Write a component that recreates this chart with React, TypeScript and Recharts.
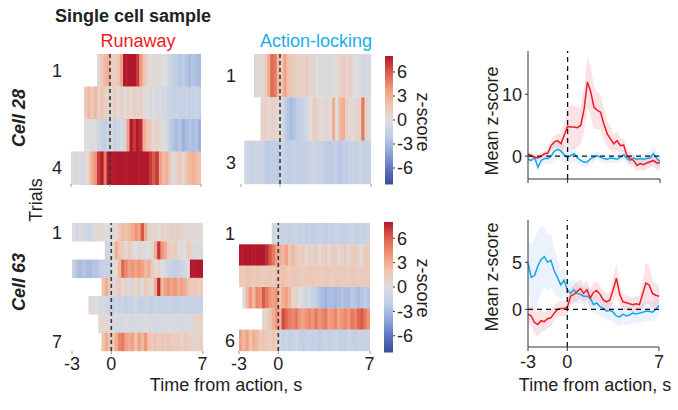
import React from 'react';
import {
  BarChart,
  Bar,
  ComposedChart,
  Line,
  Area,
  XAxis,
  YAxis,
  ReferenceLine,
} from 'recharts';

// heatmap bins are 0.25 s wide, rows end at +7 s
const BIN = 0.25;
const TIME_TICKS = [-3, 0, 7];
const CBAR_TICKS = [-6, -3, 0, 3, 6];

// ---- Cell 28 ----
const RUN28_STARTS = [-1, -2, -2, -3];
const RUN28_ROWS = [
  [0.5, 1.5, 2.5, 3.0, 1.5, 1.0, 1.5, 3.5, 8, 8, 8, 8, 7, 4, 2, 0.8, 0.3, 0.2, 0.5, 0.3, 0, -0.3, -1.2, -1.5, -2.0, -2.5, -2.0, -2.5, -3.0, -2.5, -2.8, -3.0],
  [1.5, 2.5, 1.5, 2.5, 1.0, 2.0, 1.0, 0.8, 0.5, 1.2, 0.3, 1.0, 0.2, 1.0, 0.5, 1.2, 0.8, 1.0, 0.3, 0.0, -0.5, 0.2, -0.5, -0.3, -0.8, -1.0, -1.3, -1.5, -1.4, -1.6, -1.5, -1.3, -1.6, -1.5, -1.4, -1.6],
  [0, 0, -0.2, 0, -1.0, -1.5, -1.8, -1.2, -0.8, -1.5, -1.0, -0.5, -0.8, 3.5, 8, 7, 8, 7.5, 3, 2, 1.5, 0.5, 1.0, 0.3, 0, -0.5, -2.0, -2.5, -3.0, -2.5, -3.5, -3.0, -2.5, -3.0, -2.5, -3.5],
  [0.3, -0.5, 0, -0.8, 0.5, 1.0, 3.0, 4.0, 7.0, 8, 5, 8, 8, 8, 8, 8, 8, 8, 8, 8, 8, 8, 8, 8, 7, 6, 7, 3.5, 2.5, 3, 1.5, -0.5, 1.0, 1.5, 0.5, 2.0, 2.5, 3.0, 2.5, 2.0],
];
const LOCK28_STARTS = [-2, -1.5, -2.75];
const LOCK28_ROWS = [
  [-0.5, 0.5, 0.3, 1.0, 3.0, 5.5, 5.0, 2.5, 1.5, 3.5, 2.0, 1.5, 1.2, 1.0, 1.0, 0.8, 1.5, 0.5, 0.8, 0, -0.5, 0.3, -0.3, -0.5, 0, 0.3, 1.0, 1.3, 0.8, 1.2, 0.2, 0, -0.5, -0.8, -0.5, -0.5],
  [0.8, 1.0, 0.5, 1.0, 0.8, 0.3, -0.3, -1.5, -2.5, -3.0, -2.5, -2.0, -1.5, -1.2, -0.5, 0.0, 1.5, 0.8, 0.3, 0.5, 0.8, 0.3, 3.0, 0.0, 2.5, 3.0, 1.0, 0.5, 0.3, 0.8, 1.0, 5.0, 1.0, 0.0],
  [-1.0, -1.2, -1.5, -1.0, -1.3, -1.0, -2.0, -2.2, -2.0, -1.8, -2.0, -1.3, -1.5, -2.0, -1.8, -1.5, -2.0, -1.6, -1.8, -1.5, -1.3, -1.0, -1.5, -1.2, -1.8, -2.0, -2.2, -1.8, -2.0, -2.3, -1.8, -2.0, -1.5, -1.3, -1.6, -1.2, -1.5, -1.8, -1.5],
];

// ---- Cell 63 ----
const RUN63_STARTS = [-3, -0.5, -3, -0.75, -1.75, -1, -0.75];
const RUN63_ROWS = [
  [-0.3, -0.8, -0.3, -0.5, -0.8, -1.2, -0.5, 0.3, 0.5, 0.3, 0.0, -0.3, 0.3, 0.5, 1.5, 2.5, 2.0, 2.5, 3.0, 4.0, 3.5, 6.0, 3.0, 1.0, 0.5, 0.8, 0.3, 1.0, 0.5, 0.8, 1.2, 1.0, 1.2, 0.8, 0.5, 0.3, 0.2, 0.3, 0.5, 0.3],
  [-1.0, -0.8, 0.0, 3.0, 2.0, 1.5, 0.5, 1.5, 0.5, 0.0, -0.5, 0.3, -0.3, 0.0, 0.5, 3.0, 7.0, 4.0, 3.0, 1.5, 1.0, 1.5, 0.5, 0.3, 0.0, 1.5, 0.8, -0.5, -0.3, -0.5],
  [-1.5, -2.5, -3.0, -2.5, -2.8, -3.0, -2.5, -2.5, -2.0, -1.5, -1.5, -1.5, 0.0, 0.5, 2.5, 5.5, 4.5, 3.5, 4.0, 3.5, 4.0, 3.5, 2.5, 3.0, 1.5, 0.5, 1.0, 0.0, -0.5, -1.2, -1.5, -1.8, -1.5, -1.2, -0.8, 0.0, 8, 8, 8, 8],
  [2.0, 3.0, 1.5, 0.0, 0.8, 1.5, 0.5, 1.0, -0.5, 1.0, 0.5, 1.2, 0.3, 1.5, 1.0, 0.5, 3.0, 7.5, 2.5, 3.5, 4.0, 3.5, 4.0, 3.0, 3.5, 3.0, 2.0, 1.5, 1.8, 1.2, 1.5],
  [0.3, 0.5, 0.0, -0.8, -0.5, -1.0, -1.3, -1.5, -1.0, -1.5, -1.2, -1.8, -1.3, -1.5, -1.0, -1.5, -1.6, -1.4, -1.5, -1.7, -1.3, -1.5, -1.5, -1.6, -1.4, -1.5, -1.6, -1.5, -1.3, -1.5, -1.6, -1.5, -1.4, -1.5, -1.5],
  [0.5, 0.6, 0.5, 0.3, -0.3, -0.4, -0.6, -0.5, -0.3, -0.5, -0.6, -0.4, -0.5, -0.5, -0.3, -0.5, -0.4, -0.6, -0.5, -0.4, -0.5, -0.3, -0.5, -0.4, -0.5, -0.6, -0.5, -0.4, -0.5, 0.8, 0.8, 0.8],
  [2.0, 3.0, 2.0, 1.5, 3.0, 4.5, 5.0, 3.5, 3.0, 3.5, 2.0, 3.5, 2.5, 4.0, 2.0, 1.5, 2.0, 1.5, 1.8, 1.5, 2.0, 1.5, 1.2, 1.5, 1.0, 1.5, 1.2, 0.8, 1.0, 0.8, 1.2],
];
const LOCK63_STARTS = [-0.5, -3, -3, -2.75, -1.25, -3];
const LOCK63_ROWS = [
  [-0.8, -0.5, -1.2, -1.5, -1.3, -1.8, -1.5, -1.2, -1.6, -1.4, -1.8, -1.5, -2.0, -1.6, -1.3, -1.8, -2.0, -1.5, -1.7, -1.3, -1.5, -1.8, -1.6, -1.4, -1.2, -1.5, -1.6, -1.3, -1.5, -1.2],
  [8, 8, 8, 8, 8, 8, 8, 8, 7.5, 6.0, 5.0, 3.5, 3.0, 2.5, 3.5, 2.0, 2.5, 1.5, 1.0, 1.5, 0.5, 1.2, 0.8, 1.5, 0.5, 1.0, 1.5, 0.3, 1.2, 1.5, 0.5, 1.0, 1.5, 0.5, 1.2, 1.5, 1.0, 0.3, 1.5, 1.5],
  [1.8, 1.5, 2.0, 1.6, 1.5, 1.8, 1.5, 1.3, 1.6, 1.8, 1.5, 2.0, 1.7, 2.2, 1.8, 1.5, 1.8, 1.6, 1.5, 1.2, 1.5, 1.8, 1.6, 1.3, 1.5, 1.4, 1.8, 1.5, 1.2, 1.5, 1.6, 1.3, 1.5, 1.2, 1.8, 1.5, 1.4, 1.5, 1.3, 1.5],
  [0.0, 2.5, 4.0, 2.5, 4.5, 4.0, 6.0, 5.0, 4.0, 3.5, 4.0, 2.0, 3.0, 3.5, 2.5, 0.5, 1.0, 0.0, -0.5, -1.0, -0.5, -1.5, -2.0, -2.5, -3.0, -3.5, -3.0, -2.8, -3.2, -3.0, -2.5, -2.8, -3.0, -2.2, -2.5, -3.0, -2.5, -2.0, -2.5],
  [0.5, 1.0, 2.0, 3.0, 4.0, 3.0, 6.5, 5.5, 5.0, 4.5, 5.0, 4.0, 3.5, 4.0, 4.5, 4.0, 5.0, 4.0, 4.5, 5.0, 3.5, 4.0, 4.5, 3.5, 4.0, 4.5, 4.0, 5.0, 4.5, 5.5, 6.0, 5.0, 4.0],
  [3.5, 2.5, 3.5, 2.0, 3.0, 2.5, 1.5, 2.0, 1.5, 1.0, 1.8, 1.2, -0.8, -1.5, -1.2, -1.8, -1.5, -1.0, -1.6, -2.0, -1.5, -1.3, -1.8, -1.5, -2.0, -1.6, -1.3, -1.8, -1.5, -1.2, -1.6, -1.5, -1.8, -1.3, -1.5, -1.7, -1.4, -1.5, -1.3, -1.5],
];

// ---- mean traces, sampled every 0.25 s from -3 to 7 ----
const TIME = [
  -3, -2.75, -2.5, -2.25, -2, -1.75, -1.5, -1.25, -1, -0.75,
  -0.5, -0.25, 0, 0.25, 0.5, 0.75, 1, 1.25, 1.5, 1.75,
  2, 2.25, 2.5, 2.75, 3, 3.25, 3.5, 3.75, 4, 4.25,
  4.5, 4.75, 5, 5.25, 5.5, 5.75, 6, 6.25, 6.5, 6.75, 7,
];
const RUN28_MEAN = [
  0.3, 0.1, -0.2, -0.3, 0, 0.4, 0.5, 1.7, 2.3, 2.5,
  2.0, 3.4, 4.8, 4.7, 4.7, 4.6, 5.0, 7.6, 12.0, 10.4,
  7.9, 7.4, 7.1, 5.2, 3.6, 2.8, 2.0, 2.5, 1.7, 1.8,
  0, -0.4, -0.7, -1.5, -1.2, -1.4, -1.1, -0.9, -0.7, -1.1, -1.1,
];
const RUN28_ERR = [
  0.5, 0.5, 0.5, 0.5, 0.5, 0.5, 0.6, 0.8, 1.0, 1.2,
  1.5, 2.0, 3.0, 3.5, 3.5, 3.2, 3.0, 3.5, 4.0, 4.0,
  3.5, 3.0, 2.8, 2.5, 2.0, 1.8, 1.5, 1.5, 1.2, 1.0,
  1.0, 1.0, 1.0, 1.0, 1.0, 1.0, 1.0, 1.0, 1.0, 1.2, 1.2,
];
const LOCK28_MEAN = [
  -0.5, -0.7, -0.2, -1.8, -0.7, -0.4, -0.4, 0, 0.8, 1.1,
  0.8, 0.2, -0.2, 0.1, 0.4, -0.3, -0.7, -1.0, -0.9, -0.4,
  -0.2, 0.1, -0.2, -0.4, -0.5, -0.3, -0.4, -0.5, -0.2, 0.2,
  -0.4, -0.7, -0.3, -0.5, -0.4, -0.5, -0.4, -0.3, 0.4, -0.4, -0.9,
];
const LOCK28_ERR = [
  0.6, 0.6, 0.6, 0.7, 0.7, 0.8, 1.0, 1.2, 1.5, 1.5,
  1.5, 1.5, 1.5, 1.3, 1.2, 1.0, 0.8, 0.8, 0.8, 0.8,
  0.7, 0.7, 0.7, 0.7, 0.7, 0.7, 0.7, 0.7, 0.7, 0.7,
  0.7, 0.7, 0.7, 0.7, 0.8, 0.8, 1.0, 1.2, 1.5, 1.2, 1.0,
];
const RUN63_MEAN = [
  -0.5, -0.7, -1.4, -1.6, -1.2, -1.3, -1.0, -0.9, -0.4, 0,
  0.1, 0.1, 0.2, 1.4, 1.6, 1.9, 2.2, 1.7, 2.1, 1.2,
  1.8, 2.0, 1.6, 1.0, 0.8, 1.0, 2.1, 3.3, 1.6, 0.8,
  0.7, 0.6, 0.5, 0.6, 0.5, 1.6, 2.8, 2.6, 1.7, 1.5, 1.4,
];
const RUN63_ERR = [
  1.0, 1.0, 1.2, 1.3, 1.2, 1.0, 1.0, 0.9, 0.8, 0.8,
  0.8, 0.8, 0.8, 0.9, 1.0, 1.0, 1.0, 1.0, 1.0, 1.0,
  1.0, 1.0, 0.9, 0.9, 0.9, 1.0, 1.3, 1.6, 1.2, 0.9,
  0.8, 0.8, 0.8, 0.8, 0.9, 1.3, 2.2, 2.0, 1.5, 1.2, 1.2,
];
const LOCK63_MEAN = [
  4.9, 3.4, 3.6, 4.6, 5.3, 5.6, 5.0, 5.2, 4.1, 3.4,
  2.6, 3.1, 2.1, 1.7, 2.1, 1.7, 1.6, 1.4, 1.4, 1.2,
  0.5, 0.7, 0.3, 0.1, -0.2, -0.1, -0.3, -0.7, -0.8, -0.5,
  -0.7, -0.6, -0.4, -0.5, -0.4, -0.3, -0.2, -0.2, -0.3, 0, 0.4,
];
const LOCK63_ERR = [
  2.3, 3.5, 3.8, 3.8, 3.5, 3.2, 3.0, 2.8, 2.4, 2.0,
  1.5, 1.5, 1.3, 1.2, 1.2, 1.1, 1.0, 1.0, 1.0, 1.0,
  1.0, 1.0, 1.0, 1.0, 1.0, 1.0, 1.0, 1.0, 1.0, 1.0,
  1.0, 1.0, 1.0, 1.0, 1.0, 1.0, 1.0, 1.0, 1.0, 1.0, 1.0,
];

const RED = '#ed1c24';
const BLUE = '#15a6e6';
const TXT = '#222';
const FONT = '"Liberation Sans", Arial, sans-serif';

// diverging map as seen on the colour bar, -8..8 in steps of 2
const CMAP = [
  [58, 76, 160], [95, 118, 190], [145, 168, 215], [192, 205, 230], [221, 221, 221],
  [240, 195, 175], [240, 150, 120], [218, 90, 72], [178, 24, 43],
];
const zColor = (v: number) => {
  const f = Math.max(0, Math.min(1, (v + 8) / 16)) * (CMAP.length - 1);
  const i = Math.min(CMAP.length - 2, Math.floor(f));
  const t = f - i;
  const c = CMAP[i].map((a, k) => Math.round(a + (CMAP[i + 1][k] - a) * t));
  return `rgb(${c[0]},${c[1]},${c[2]})`;
};

// one bar per trial, painted as a strip of cells
const HeatRow = (props: any) => {
  const { x, y, width, height, payload } = props;
  if (!payload || !width) return <g />;
  const z: number[] = payload.z;
  const x0 = width < 0 ? x + width : x;
  const cw = Math.abs(width) / z.length;
  return (
    <g>
      {z.map((v, i) => (
        <rect key={i} x={x0 + i * cw} y={y} width={cw + 0.5} height={height + 0.5} fill={zColor(v)} />
      ))}
    </g>
  );
};

interface HeatProps {
  left: number;
  top: number;
  w: number;
  h: number;
  starts: number[];
  rows: number[][];
  gap: number;
  showX: boolean;
}

function HeatPanel({ left, top, w, h, starts, rows, gap, showX }: HeatProps) {
  const data = rows.map((z, i) => ({
    trial: String(i + 1),
    span: [starts[i], starts[i] + z.length * BIN],
    z,
  }));
  const last = rows.length - 1;
  return (
    <div style={{ position: 'absolute', left: left - 40, top: top - 4 }}>
      <BarChart
        layout="vertical"
        width={w + 44}
        height={h + 30}
        data={data}
        margin={{ top: 4, right: 4, bottom: 0, left: 0 }}
        barCategoryGap={0}
        barGap={0}
      >
        <XAxis
          type="number"
          domain={[-3, 7]}
          ticks={TIME_TICKS}
          allowDataOverflow
          height={26}
          axisLine={false}
          tickSize={3}
          tickMargin={3}
          tickLine={{ stroke: '#999' }}
          tick={{ fontSize: 18, fill: TXT }}
          tickFormatter={(v: number) => (showX ? String(v) : '')}
        />
        <YAxis
          type="category"
          dataKey="trial"
          width={40}
          axisLine={false}
          tickLine={false}
          tickSize={0}
          tickMargin={gap}
          interval={0}
          tick={{ fontSize: 18, fill: TXT }}
          tickFormatter={(v: string, i: number) => (i === 0 || i === last ? v : '')}
        />
        <Bar dataKey="span" shape={HeatRow} isAnimationActive={false} />
        <ReferenceLine x={0} stroke="#3a3a3a" strokeWidth={1.6} strokeDasharray="4 3" />
      </BarChart>
    </div>
  );
}

// colour bar: one ranged bar from -8 to 8, painted top-down with the map
const CBAR_RANGE = [{ name: 'z', span: [-8, 8] }];
const CBAR_STEPS = 64;

const CBarShape = (props: any) => {
  const { x, y, width, height } = props;
  if (!height) return <g />;
  const y0 = height < 0 ? y + height : y;
  const hh = Math.abs(height);
  const ch = hh / CBAR_STEPS;
  const cells = Array.from({ length: CBAR_STEPS }, (_, i) => i);
  return (
    <g>
      {cells.map((i) => (
        <rect key={i} x={x} y={y0 + i * ch} width={width} height={ch + 0.5}
          fill={zColor(8 - (i + 0.5) * (16 / CBAR_STEPS))} />
      ))}
    </g>
  );
};

function ColorBar({ left, top, w, h }: { left: number; top: number; w: number; h: number }) {
  return (
    <div style={{ position: 'absolute', left, top: top - 4 }}>
      <BarChart width={w + 30} height={h + 8} data={CBAR_RANGE} margin={{ top: 4, right: 0, bottom: 4, left: 0 }}
        barCategoryGap={0}>
        <XAxis dataKey="name" type="category" hide />
        <YAxis
          orientation="right"
          type="number"
          domain={[-8, 8]}
          ticks={CBAR_TICKS}
          interval={0}
          width={30}
          axisLine={false}
          tickSize={2}
          tickMargin={2}
          tickLine={{ stroke: '#333' }}
          tick={{ fontSize: 18, fill: TXT }}
        />
        <Bar dataKey="span" shape={CBarShape} isAnimationActive={false} />
      </BarChart>
    </div>
  );
}

interface MeanProps {
  left: number;
  top: number;
  w: number;
  h: number;
  domain: [number, number];
  yTicks: number[];
  red: number[];
  redErr: number[];
  blue: number[];
  blueErr: number[];
  showX: boolean;
}

function MeanPanel({ left, top, w, h, domain, yTicks, red, redErr, blue, blueErr, showX }: MeanProps) {
  const data = TIME.map((t, i) => ({
    t,
    red: red[i],
    blue: blue[i],
    redBand: [red[i] - redErr[i], red[i] + redErr[i]],
    blueBand: [blue[i] - blueErr[i], blue[i] + blueErr[i]],
  }));
  return (
    <div style={{ position: 'absolute', left: left - 44, top: top - 4 }}>
      <ComposedChart width={w + 52} height={h + 34} data={data} margin={{ top: 4, right: 8, bottom: 0, left: 0 }}>
        <XAxis
          dataKey="t"
          type="number"
          domain={[-3, 7]}
          ticks={TIME_TICKS}
          height={30}
          stroke="#333"
          tickSize={4}
          tickMargin={4}
          tick={{ fontSize: 18, fill: TXT }}
          tickFormatter={(v: number) => (showX ? String(v) : '')}
        />
        <YAxis
          type="number"
          domain={domain}
          ticks={yTicks}
          allowDataOverflow
          width={44}
          stroke="#333"
          tickSize={3}
          tickMargin={3}
          tick={{ fontSize: 18, fill: TXT }}
        />
        <Area dataKey="blueBand" stroke="none" fill="#9cc0ec" fillOpacity={0.2} isAnimationActive={false} />
        <Area dataKey="redBand" stroke="none" fill="#f08a9a" fillOpacity={0.25} isAnimationActive={false} />
        <Line dataKey="blue" stroke={BLUE} strokeWidth={1.5} dot={false} isAnimationActive={false} />
        <Line dataKey="red" stroke={RED} strokeWidth={1.5} dot={false} isAnimationActive={false} />
        <ReferenceLine y={0} stroke="#111" strokeWidth={1.3} strokeDasharray="5 4" />
        <ReferenceLine x={0} stroke="#111" strokeWidth={1.3} strokeDasharray="5 4" />
      </ComposedChart>
    </div>
  );
}

export default function App() {
  return (
    <div style={{ position: 'absolute', left: 0, top: 0, width: 678, height: 410, background: '#fff', fontFamily: FONT }}>
      <HeatPanel left={71} top={54} w={130} h={130} starts={RUN28_STARTS} rows={RUN28_ROWS} gap={9} showX={false} />
      <HeatPanel left={241} top={54} w={130} h={130} starts={LOCK28_STARTS} rows={LOCK28_ROWS} gap={5} showX={false} />
      <HeatPanel left={72} top={223} w={131} h={128} starts={RUN63_STARTS} rows={RUN63_ROWS} gap={10} showX />
      <HeatPanel left={239} top={223} w={131} h={128} starts={LOCK63_STARTS} rows={LOCK63_ROWS} gap={4} showX />
      <ColorBar left={385} top={56} w={8} h={128} />
      <ColorBar left={384} top={222} w={9} h={130} />
      <MeanPanel left={528} top={51} w={132} h={128} domain={[-3.7, 17]} yTicks={[0, 10]}
        red={RUN28_MEAN} redErr={RUN28_ERR} blue={LOCK28_MEAN} blueErr={LOCK28_ERR} showX={false} />
      <MeanPanel left={528} top={220} w={131} h={127} domain={[-4, 9.5]} yTicks={[0, 5]}
        red={RUN63_MEAN} redErr={RUN63_ERR} blue={LOCK63_MEAN} blueErr={LOCK63_ERR} showX />
      <svg width={678} height={410} style={{ position: 'absolute', left: 0, top: 0, pointerEvents: 'none' }} fontFamily={FONT}>
        <text x={55} y={22} fontSize={18} fontWeight="bold" fill={TXT}>Single cell sample</text>
        <text x={138} y={47} fontSize={18} fill={RED} textAnchor="middle">Runaway</text>
        <text x={316} y={47} fontSize={18} fill="#1aaee8" textAnchor="middle">Action-locking</text>
        <text x={25} y={118} fontSize={18} fontWeight="bold" fontStyle="italic" fill={TXT} textAnchor="middle" transform="rotate(-90 25 118)">Cell 28</text>
        <text x={25} y={282} fontSize={18} fontWeight="bold" fontStyle="italic" fill={TXT} textAnchor="middle" transform="rotate(-90 25 282)">Cell 63</text>
        <text x={42} y={200} fontSize={18} fill={TXT} textAnchor="middle" transform="rotate(-90 42 200)">Trials</text>
        <text x={417} y={122} fontSize={18} fill={TXT} textAnchor="middle" transform="rotate(90 417 122)">z-score</text>
        <text x={417} y={288} fontSize={18} fill={TXT} textAnchor="middle" transform="rotate(90 417 288)">z-score</text>
        <text x={498} y={121} fontSize={18} fill={TXT} textAnchor="middle" transform="rotate(-90 498 121)">Mean z-score</text>
        <text x={498} y={277} fontSize={18} fill={TXT} textAnchor="middle" transform="rotate(-90 498 277)">Mean z-score</text>
        <text x={226} y={391} fontSize={18} fill={TXT} textAnchor="middle">Time from action, s</text>
        <text x={595} y={391} fontSize={18} fill={TXT} textAnchor="middle">Time from action, s</text>
      </svg>
    </div>
  );
}
